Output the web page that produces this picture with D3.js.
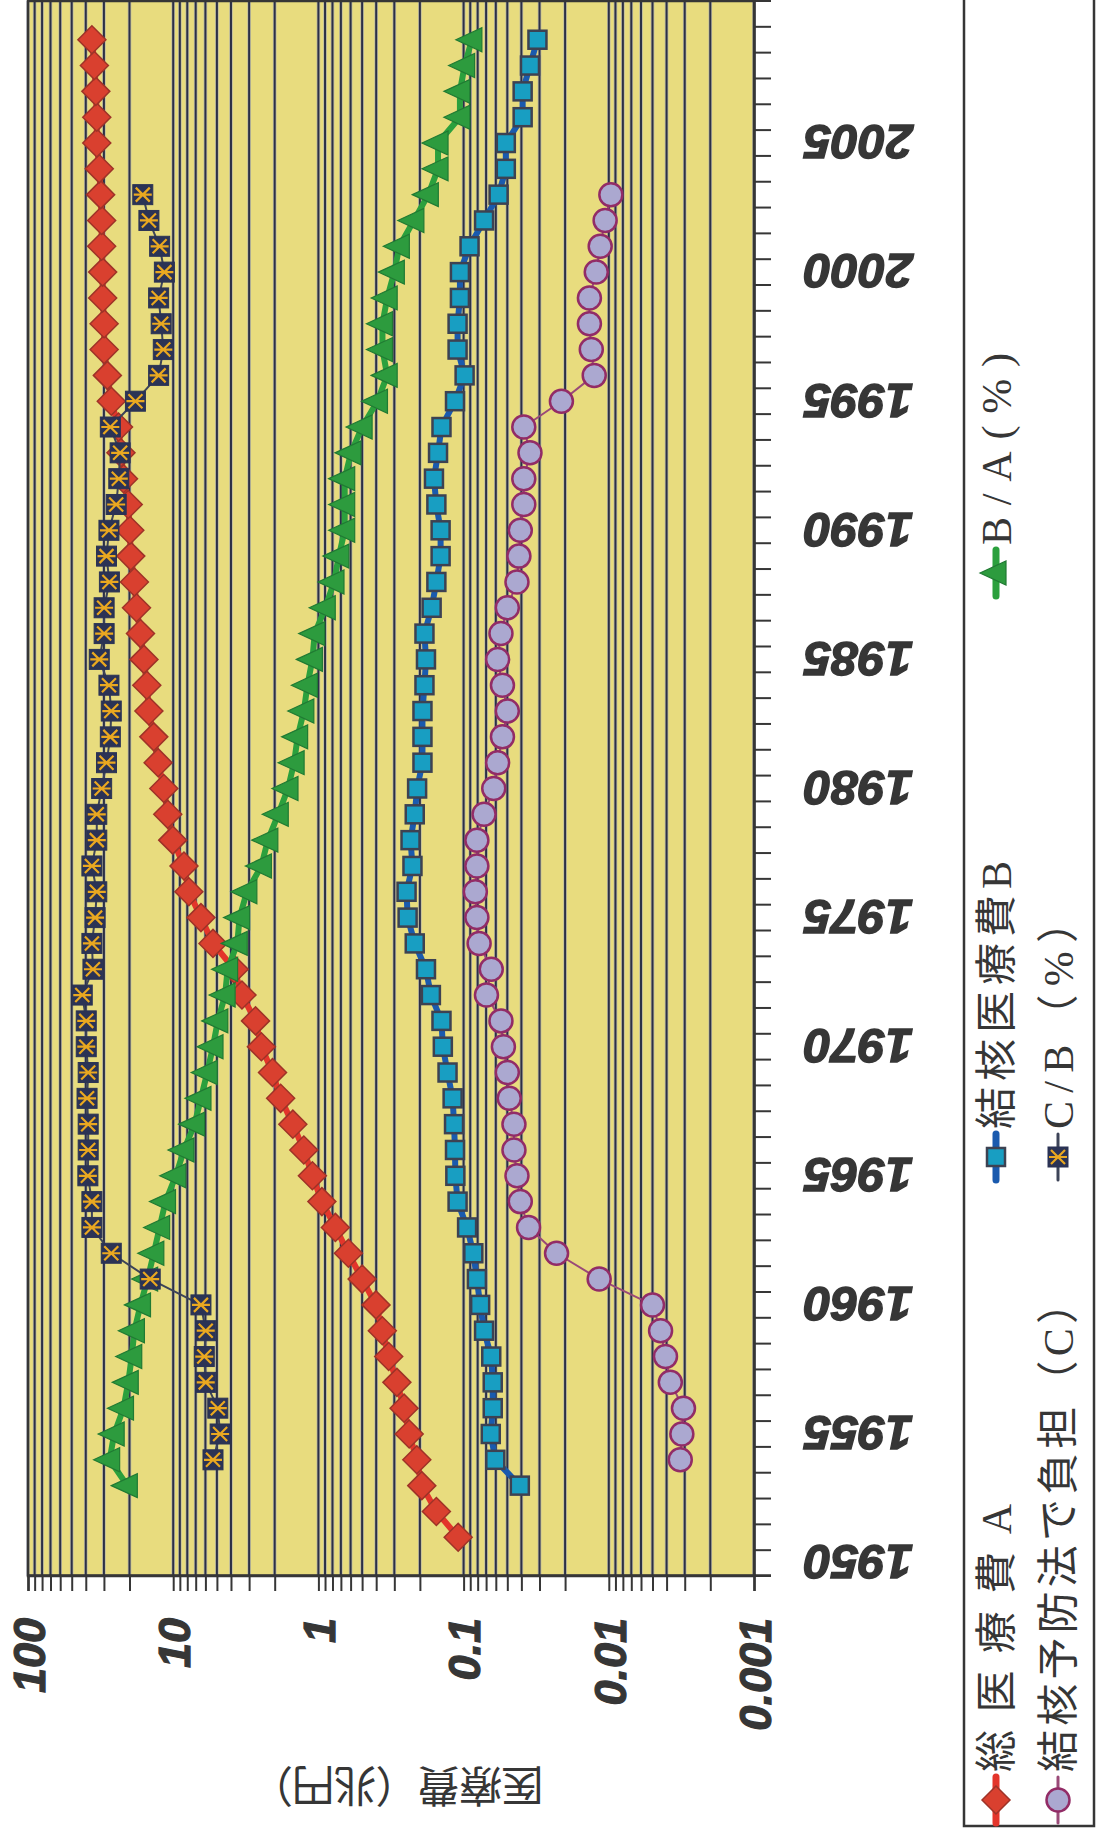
<!DOCTYPE html>
<html>
<head>
<meta charset="utf-8">
<script src="https://cdn.jsdelivr.net/npm/d3@7"></script>
<style>
  body { margin: 0; background: #ffffff; }
  svg { display: block; }
</style>
</head>
<body>
<svg id="chart" width="1099" height="1833"></svg>
<script>
// ---- categories (fiscal years) ----
const years = [1950,1951,1952,1953,1954,1955,1956,1957,1958,1959,
               1960,1961,1962,1963,1964,1965,1966,1967,1968,1969,
               1970,1971,1972,1973,1974,1975,1976,1977,1978,1979,
               1980,1981,1982,1983,1984,1985,1986,1987,1988,1989,
               1990,1991,1992,1993,1994,1995,1996,1997,1998,1999,
               2000,2001,2002,2003,2004,2005,2006,2007,2008,2009,2010];
const yearLabels = [1950,1955,1960,1965,1970,1975,1980,1985,1990,1995,2000,2005];

// ---- value axis ----
const decadeTicks = [0.001, 0.01, 0.1, 1, 10, 100];
const decadeLabels = ["0.001", "0.01", "0.1", "1", "10", "100"];

// ---- series (one entry per year above, null = no data) ----
// 総医療費 A (兆円)
const totalCost = [null,
  0.109,0.154,0.194,0.21,0.237,0.257,0.288,0.328,0.363,
  0.401,0.50,0.621,0.764,0.946,1.10,1.26,1.50,1.82,2.07,
  2.47,2.71,3.36,3.8,5.32,6.44,7.8,8.43,10.07,10.9,
  11.6,12.7,13.6,14.7,15.2,15.9,16.8,17.9,18.5,19.6,
  19.9,20.4,22.0,22.9,23.8,26.7,28.4,29.9,29.9,30.6,
  30.6,31.1,31.1,31.6,32.3,33.6,33.6,34.1,34.9,36.3, null];

// 結核医療費 B (兆円)
const tbCost = [null,null,null,
  0.041,0.0605,0.065,0.063,0.063,0.0645,0.0723,
  0.0769,0.081,0.0857,0.0946,0.110,0.114,0.1146,0.1164,0.119,0.129,
  0.139,0.142,0.168,0.1816,0.217,0.243,0.247,0.225,0.232,0.217,
  0.209,0.192,0.192,0.192,0.186,0.1816,0.186,0.166,0.154,0.144,
  0.144,0.154,0.160,0.150,0.142,0.1146,0.0984,0.110,0.110,0.106,
  0.106,0.091,0.0723,0.0574,0.0512,0.0512,0.0392,0.0392,0.0349,0.031, null];

// B/A (%)
const tbShare = [null,null,null,
  20.7,27.4,25.5,22.0,20.4,19.3,18.5,
  16.8,15.0,13.6,12.4,11.3,9.6,8.43,7.12,6.44,5.83,
  5.32,4.93,4.39,4.22,3.62,3.49,3.11,2.47,2.23,1.89,
  1.62,1.47,1.39,1.26,1.19,1.10,1.06,0.897,0.781,0.723,
  0.659,0.659,0.659,0.597,0.50,0.392,0.336,0.362,0.362,0.336,
  0.30,0.277,0.220,0.175,0.150,0.150,0.106,0.106,0.0984,0.0877, null];

// 結核予防法で負担 C (兆円)
const lawCost = [null,null,null,null,
  0.00322,0.00314,0.00306,0.00377,0.00407,0.0044,
  0.0050,0.01165,0.0229,0.0357,0.0407,0.0429,0.045,0.045,0.0485,0.050,
  0.0532,0.0553,0.0696,0.0645,0.0782,0.081,0.083,0.081,0.081,0.0723,
  0.062,0.0583,0.054,0.050,0.054,0.0583,0.0553,0.050,0.0429,0.0416,
  0.0407,0.0385,0.0385,0.0349,0.0385,0.0212,0.0126,0.0132,0.0136,0.0136,
  0.0122,0.01146,0.0106,0.00968, null,null,null,null,null,null,null];

// C/B (%)
const lawShare = [null,null,null,null,
  5.32,4.75,4.93,5.97,6.11,5.97,
  6.44,14.4,26.7,36.3,36.3,38.7,38.5,38.5,39.2,38.5,
  39.7,39.7,42.3,35.7,36.3,34.5,33.6,36.3,33.6,33.6,
  31.1,28.8,27.1,26.7,27.7,32.3,29.9,29.9,27.5,28.8,
  27.7,24.7,23.7,23.2,27.1,18.2,12.6,11.7,12.1,12.6,
  11.5,12.4,14.7,16.2, null,null,null,null,null,null,null];

// ---- layout ----
// The chart is laid out landscape (1833 wide, 1099 tall) and turned a quarter
// turn counter-clockwise to fill the portrait page.
const PAGE_W = 1099, PAGE_H = 1833;
const plot = { left: 257, right: 1832, top: 28, bottom: 754 };
const ink = "#363636";

const svg = d3.select("#chart");
const g = svg.append("g").attr("transform", `translate(0,${PAGE_H}) rotate(-90)`);

const x = d3.scaleBand().domain(years).range([plot.left, plot.right]);
const bw = x.bandwidth();
const cx = yr => x(yr) + bw / 2;
const y = d3.scaleLog().domain([0.001, 100]).range([plot.bottom, plot.top]);

// plot background
g.append("rect")
  .attr("x", plot.left).attr("y", plot.top)
  .attr("width", plot.right - plot.left).attr("height", plot.bottom - plot.top)
  .attr("fill", "#E8DC7E");

// horizontal grid at every 1..9 step of each decade
const gridVals = y.ticks();
g.append("g").selectAll("line").data(gridVals).join("line")
  .attr("x1", plot.left).attr("x2", plot.right)
  .attr("y1", d => y(d)).attr("y2", d => y(d))
  .attr("stroke", "#9aa0c0").attr("stroke-width", 3.6).attr("opacity", 0.55);
g.append("g").selectAll("line").data(gridVals).join("line")
  .attr("x1", plot.left).attr("x2", plot.right)
  .attr("y1", d => y(d)).attr("y2", d => y(d))
  .attr("stroke", "#2c3046").attr("stroke-width", 2);

// value axis
const yAxis = d3.axisLeft(y)
  .tickValues(gridVals)
  .tickSize(15)
  .tickPadding(27)
  .tickFormat(d => {
    const i = decadeTicks.findIndex(t => Math.abs(t - d) / t < 1e-6);
    return i >= 0 ? decadeLabels[i] : "";
  });
const ya = g.append("g").attr("transform", `translate(${plot.left},0)`).call(yAxis);
ya.select(".domain").attr("stroke", ink).attr("stroke-width", 2.5);
ya.selectAll(".tick line").attr("stroke", ink).attr("stroke-width", 2);
ya.selectAll(".tick text")
  .attr("fill", ink).attr("stroke", ink).attr("stroke-width", 1.2)
  .attr("dy", "0.36em")
  .style("font-family", "'Liberation Sans', Arial, sans-serif")
  .style("font-size", "45px").style("font-weight", "bold").style("font-style", "italic");

// category axis: ticks between years, labels every five years
const xAxis = d3.axisBottom(x)
  .tickValues(years)
  .tickSize(17)
  .tickFormat(d => yearLabels.includes(d) ? String(d) : "");
const xa = g.append("g").attr("transform", `translate(0,${plot.bottom})`).call(xAxis);
xa.select(".domain").attr("stroke", ink).attr("stroke-width", 2.5);
xa.selectAll(".tick line").attr("transform", `translate(${-bw / 2},0)`)
  .attr("stroke", ink).attr("stroke-width", 2);
xa.append("line")
  .attr("x1", plot.right).attr("x2", plot.right).attr("y1", 0).attr("y2", 17)
  .attr("stroke", ink).attr("stroke-width", 2);
xa.selectAll(".tick text")
  .attr("x", 0).attr("y", 0).attr("dy", "0.36em")
  .attr("transform", "translate(0,50) rotate(-90)")
  .attr("text-anchor", "end")
  .attr("fill", ink).attr("stroke", ink).attr("stroke-width", 1.4)
  .style("font-family", "'Liberation Sans', Arial, sans-serif")
  .style("font-size", "49px").style("font-weight", "bold").style("font-style", "italic");

// plot frame
g.append("rect")
  .attr("x", plot.left).attr("y", plot.top)
  .attr("width", plot.right - plot.left).attr("height", plot.bottom - plot.top)
  .attr("fill", "none").attr("stroke", ink).attr("stroke-width", 2.5);

// value axis title
g.append("text")
  .attr("transform", `translate(48,${(plot.top + plot.bottom) / 2 + 6}) rotate(-90)`)
  .attr("text-anchor", "middle").attr("dy", "0.36em")
  .attr("fill", ink)
  .attr("textLength", 294).attr("lengthAdjust", "spacing")
  .style("font-family", "'Noto Sans CJK JP', sans-serif")
  .style("font-size", "43px")
  .text("医療費（兆円）");

// ---- markers ----
const markers = {
  diamond: sel => sel.append("path")
    .attr("d", "M0,-14L14,0L0,14L-14,0Z")
    .attr("fill", "#D9402F").attr("stroke", "#9E3328").attr("stroke-width", 1.5),
  square: sel => sel.append("rect")
    .attr("x", -9).attr("y", -9).attr("width", 18).attr("height", 18)
    .attr("fill", "#189EC2").attr("stroke", "#3D4252").attr("stroke-width", 2.5),
  triangle: sel => sel.append("path")
    .attr("d", "M0,-16L12,10L-12,10Z")
    .attr("fill", "#2D9B3E").attr("stroke", "#207A33").attr("stroke-width", 1.2),
  circle: sel => sel.append("circle")
    .attr("r", 11.5)
    .attr("fill", "#ABA8D0").attr("stroke", "#922C66").attr("stroke-width", 2.5),
  star: sel => {
    sel.append("rect")
      .attr("x", -10).attr("y", -10).attr("width", 20).attr("height", 20)
      .attr("fill", "#2B3355").attr("stroke", "#2B3355").attr("stroke-width", 1);
    sel.append("path")
      .attr("d", "M-7,-7L7,7M-7,7L7,-7M0,-9L0,9")
      .attr("stroke", "#EAA820").attr("stroke-width", 2.2).attr("fill", "none");
  }
};

const series = [
  { name: "総医療費A",   values: totalCost, line: "#E3352B", lw: 6,   marker: "diamond" },
  { name: "結核医療費B", values: tbCost,    line: "#1A5AAE", lw: 6,   marker: "square" },
  { name: "B/A(%)",      values: tbShare,   line: "#2BA03D", lw: 6,   marker: "triangle" },
  { name: "結核予防法で負担（C）", values: lawCost, line: "#9A4A78", lw: 2, marker: "circle" },
  { name: "C/B（%）",    values: lawShare,  line: "#3D4458", lw: 2,   marker: "star" }
];

const lineGen = d3.line()
  .defined(d => d.v != null)
  .x(d => cx(d.yr))
  .y(d => y(d.v));

series.forEach(s => {
  const pts = years.map((yr, i) => ({ yr, v: s.values[i] }));
  const sg = g.append("g");
  sg.append("path")
    .datum(pts)
    .attr("d", lineGen)
    .attr("fill", "none")
    .attr("stroke", s.line)
    .attr("stroke-width", s.lw)
    .attr("stroke-linejoin", "round");
  sg.selectAll("g.m").data(pts.filter(d => d.v != null)).join("g")
    .attr("class", "m")
    .attr("transform", d => `translate(${cx(d.yr)},${y(d.v)})`)
    .each(function () { markers[s.marker](d3.select(this)); });
});

// ---- legend ----
const legend = g.append("g");
legend.append("rect")
  .attr("x", 7).attr("y", 964).attr("width", 1900).attr("height", 130)
  .attr("fill", "#ffffff").attr("stroke", ink).attr("stroke-width", 2.5);

const legendItems = [
  { s: series[0], mx: 33,   my: 996,  len: 268 },
  { s: series[1], mx: 676,  my: 996,  len: 268 },
  { s: series[2], mx: 1260, my: 996,  len: 192 },
  { s: series[3], mx: 33,   my: 1058, len: 490 },
  { s: series[4], mx: 676,  my: 1058, len: 228 }
];
legendItems.forEach(it => {
  const lg = legend.append("g");
  lg.append("line")
    .attr("x1", it.mx - 23).attr("x2", it.mx + 23)
    .attr("y1", it.my).attr("y2", it.my)
    .attr("stroke", it.s.line).attr("stroke-width", it.s.lw + 1)
    .attr("stroke-linecap", "round");
  const mg = lg.append("g").attr("transform", `translate(${it.mx},${it.my})`);
  markers[it.s.marker](mg);
  lg.append("text")
    .attr("x", it.mx + 28).attr("y", it.my).attr("dy", "0.36em")
    .attr("textLength", it.len).attr("lengthAdjust", "spacing")
    .attr("fill", ink)
    .style("font-family", "'Liberation Serif', 'Noto Sans CJK JP', serif")
    .style("font-size", "42px")
    .text(it.s.name);
});
</script>
</body>
</html>
